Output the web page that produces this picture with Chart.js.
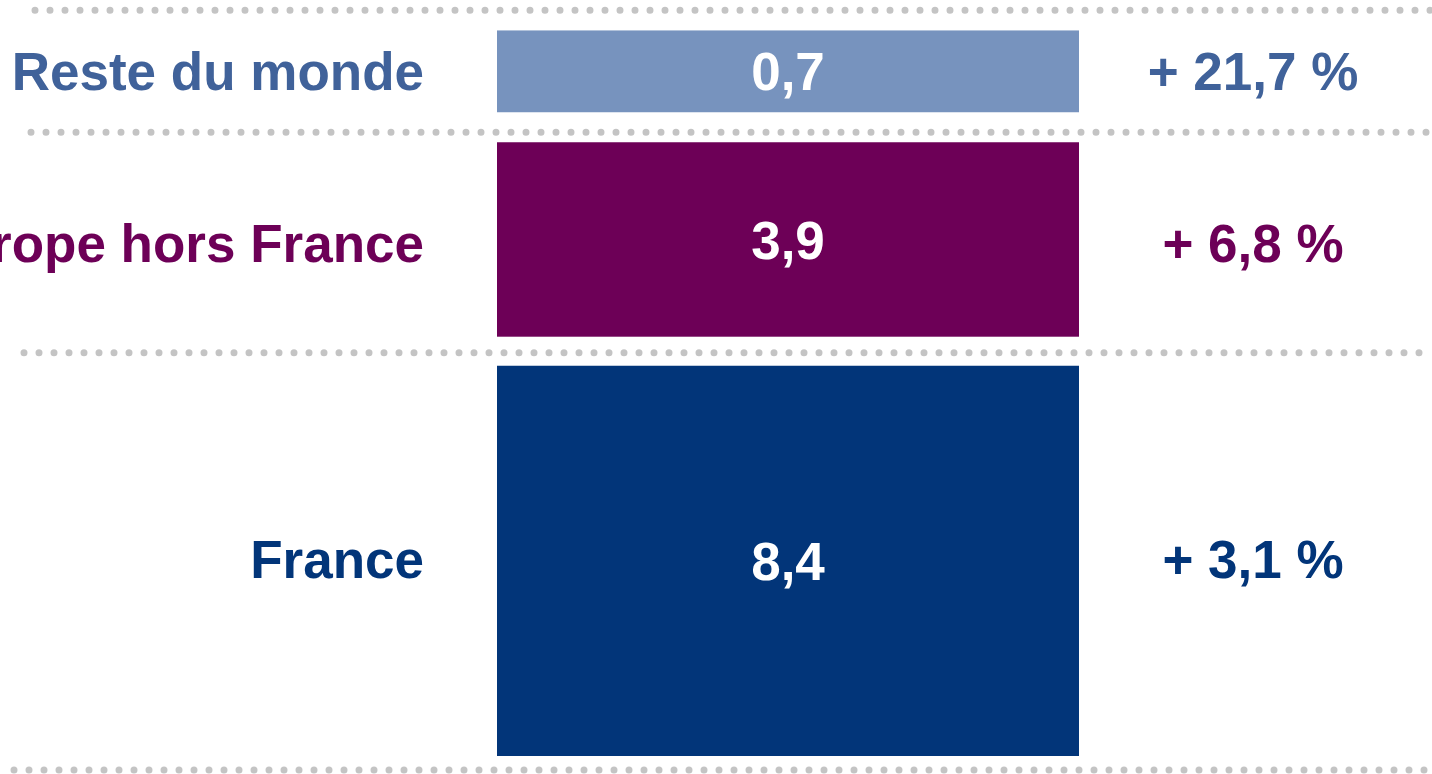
<!DOCTYPE html>
<html>
<head>
<meta charset="utf-8">
<script src="https://cdn.jsdelivr.net/npm/chart.js@4"></script>
<style>
  html, body { margin: 0; padding: 0; background: #fff; }
  #wrap { width: 1432px; height: 774px; position: relative; }
</style>
</head>
<body>
<div id="wrap"><canvas id="chart"></canvas></div>
<script>
// bottom to top, as stacked
const categories = ['France', 'Europe hors France', 'Reste du monde'];
const values = [8.4, 3.9, 0.7];
const growth = [3.1, 6.8, 21.7];

const barColors = ['#023579', '#6d0057', '#7793be'];
const textColors = ['#023579', '#6d0057', '#40629a'];
const borders = [
    { top: 29, bottom: 0, left: 0, right: 0 },
    0,
    { top: 0, bottom: 30, left: 0, right: 0 }
];
// small vertical nudge of the side labels, per row
const sideShift = [-2, 3.5, -1];

const font = 'bold 53px "Liberation Sans", Arial, sans-serif';

function frNumber(v) {
    return v.toFixed(1).replace('.', ',');
}

function dotted(ctx, x0, x1, y) {
    ctx.save();
    ctx.strokeStyle = '#c4c4c4';
    ctx.lineWidth = 7;
    ctx.lineCap = 'round';
    ctx.setLineDash([0, 15]);
    ctx.beginPath();
    ctx.moveTo(x0, y);
    ctx.lineTo(x1, y);
    ctx.stroke();
    ctx.restore();
}

const labelsPlugin = {
    id: 'rowLabels',
    afterDatasetsDraw(chart) {
        const ctx = chart.ctx;
        const w = chart.width;
        const bars = categories.map((c, i) => chart.getDatasetMeta(i).data[0]);
        const vis = bars.map((el, i) => {
            const b = borders[i] || {};
            return { top: el.y + (b.top || 0), bottom: el.base - (b.bottom || 0), x: el.x };
        });

        // separators
        dotted(ctx, 35, w, vis[2].top - 20);
        dotted(ctx, 31, w, vis[1].top - 10);
        dotted(ctx, 24, w, vis[1].bottom + 16);
        dotted(ctx, 14, w, vis[0].bottom + 14);

        ctx.save();
        ctx.font = font;
        ctx.textBaseline = 'alphabetic';
        vis.forEach((v, i) => {
            const mid = (v.top + v.bottom) / 2;
            const y = mid + 19.3 + sideShift[i];
            ctx.fillStyle = textColors[i];
            ctx.textAlign = 'right';
            ctx.fillText(categories[i], 424, y);
            ctx.textAlign = 'center';
            ctx.fillText('+ ' + frNumber(growth[i]) + ' %', 1253, y);
            ctx.fillStyle = '#ffffff';
            ctx.fillText(frNumber(values[i]), v.x, mid + 19);
        });
        ctx.restore();
    }
};

new Chart(document.getElementById('chart'), {
    type: 'bar',
    data: {
        labels: [''],
        datasets: categories.map((name, i) => ({
            label: name,
            data: [values[i]],
            backgroundColor: barColors[i],
            borderColor: '#ffffff',
            borderWidth: borders[i],
            borderSkipped: false,
            inflateAmount: 0,
            minBarLength: i === 2 ? 112 : 0,
            barPercentage: 1,
            categoryPercentage: 1
        }))
    },
    options: {
        responsive: true,
        maintainAspectRatio: false,
        animation: false,
        layout: { padding: { left: 497, right: 353, top: 0, bottom: 18 } },
        plugins: {
            legend: { display: false },
            tooltip: { enabled: false }
        },
        scales: {
            x: { stacked: true, display: false },
            y: { stacked: true, display: false, min: 0, max: 15.15 }
        }
    },
    plugins: [labelsPlugin]
});
</script>
</body>
</html>
